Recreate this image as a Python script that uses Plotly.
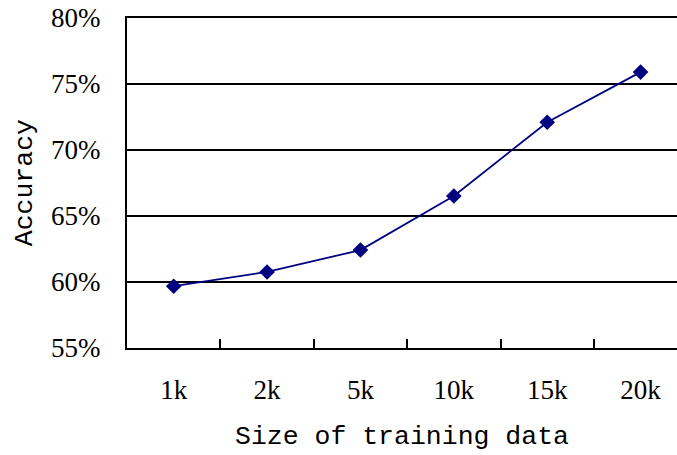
import plotly.graph_objects as go

categories = ["1k", "2k", "5k", "10k", "15k", "20k"]
accuracy = [0.5968, 0.6076, 0.6242, 0.6652, 0.7210, 0.7590]
y_ticks = [0.55, 0.60, 0.65, 0.70, 0.75, 0.80]

TICKFONT = "Liberation Serif"
TITLEFONT = "Liberation Mono"
NAVY = "#000080"

fig = go.Figure()
fig.add_trace(go.Scatter(
    x=categories, y=accuracy, mode="lines+markers",
    line=dict(color=NAVY, width=1.8),
    marker=dict(symbol="diamond", size=12, color=NAVY),
    showlegend=False, cliponaxis=False,
))

fig.update_layout(
    width=677, height=455,
    margin=dict(l=127, r=0, t=18, b=107),
    paper_bgcolor="white", plot_bgcolor="white",
    font=dict(family=TICKFONT, size=27, color="black"),
    annotations=[
        dict(text="Size of training data", xref="paper", yref="paper",
             x=0.50, y=-0.27, xanchor="center", yanchor="middle", showarrow=False,
             font=dict(family=TITLEFONT, size=26.5)),
        dict(text="Accuracy", xref="paper", yref="paper",
             x=-0.185, y=0.5, xanchor="center", yanchor="middle", showarrow=False,
             textangle=-90, font=dict(family=TITLEFONT, size=26.5)),
    ],
)
fig.update_xaxes(
    type="category", range=[-0.5, 5.39], automargin=False,
    tickson="boundaries", ticks="inside", ticklen=9, tickwidth=1.5, tickcolor="black",
    showline=True, mirror=True, linecolor="black", linewidth=2, showgrid=False,
    ticklabelstandoff=17,
    tickfont=dict(family=TICKFONT, size=27),
)
fig.update_yaxes(
    range=[0.55, 0.80], tickvals=y_ticks, tickformat=".0%", automargin=False,
    ticks="inside", ticklen=8, tickwidth=2, tickcolor="black",
    showline=True, linecolor="black", linewidth=2,
    showgrid=True, gridcolor="black", gridwidth=2,
    zeroline=False, ticklabelstandoff=19,
    tickfont=dict(family=TICKFONT, size=27),
)

fig.write_html(
    "out.html",
    config={"displayModeBar": False},
    post_script="document.body.style.margin='0';document.body.style.overflow='hidden';",
)
